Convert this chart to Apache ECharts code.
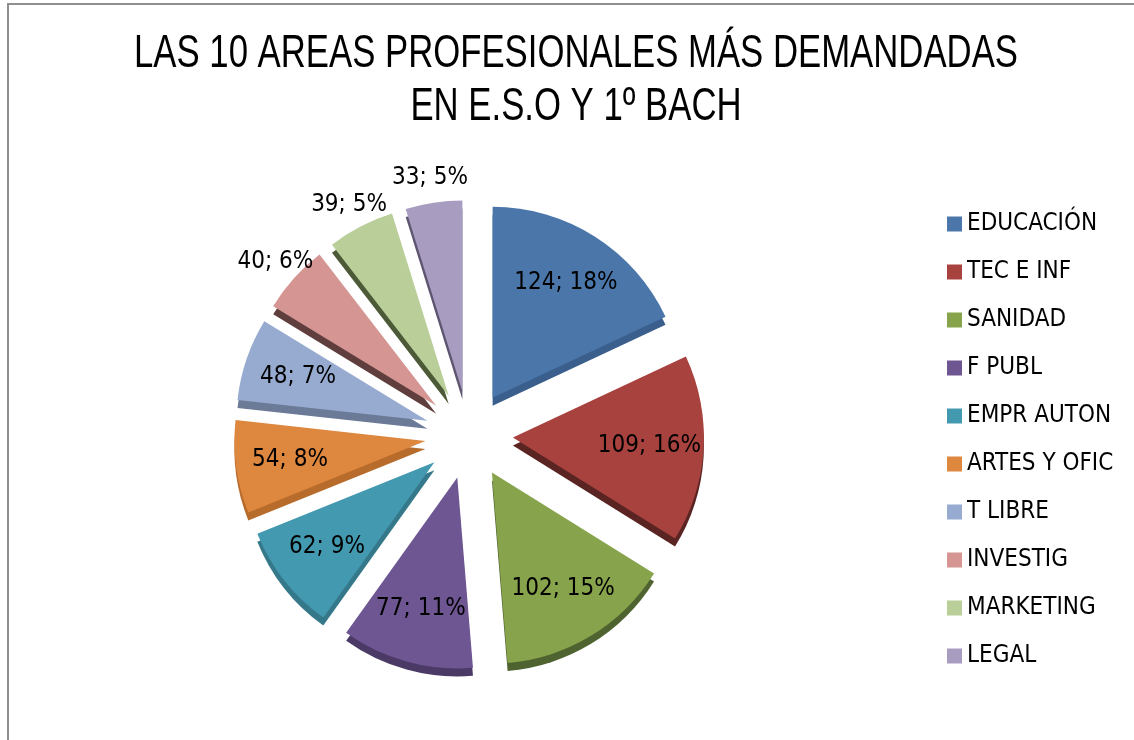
<!DOCTYPE html>
<html>
<head>
<meta charset="utf-8">
<script src="https://cdn.jsdelivr.net/npm/echarts@6/dist/echarts.min.js"></script>
<style>
  body { margin: 0; background: #fff; }
  #chart { position: absolute; left: 0; top: 0; width: 1134px; height: 740px; }
  #frame { position: absolute; left: 7px; top: 3px; width: 1200px; height: 800px;
           border-left: 2px solid #8e8e8e; border-top: 2px solid #8e8e8e; pointer-events: none; }
</style>
</head>
<body>
<div id="chart"></div>
<div id="frame"></div>
<script>
// Data
var titleLines = ['LAS 10 AREAS PROFESIONALES MÁS DEMANDADAS', 'EN E.S.O Y 1º BACH'];
var areas = ['EDUCACIÓN', 'TEC E INF', 'SANIDAD', 'F PUBL', 'EMPR AUTON',
             'ARTES Y OFIC', 'T LIBRE', 'INVESTIG', 'MARKETING', 'LEGAL'];
var alumnos = [124, 109, 102, 77, 62, 54, 48, 40, 39, 33];

// Colors (top face / side face)
var topColors = ['#4A76A9', '#A8423F', '#87A34C', '#6E5693', '#4399B0',
                 '#DD873F', '#97AAD0', '#D49593', '#B9CE98', '#A89CC0'];
var sideColors = ['#3B5F8C', '#5A2422', '#4F6330', '#4B3A66', '#35788A',
                  '#B86C2C', '#6B7A96', '#5F3E3D', '#4C5A38', '#5E5570'];

var font = "'DejaVu Sans Condensed', 'Liberation Sans Narrow', sans-serif";
var cx = 469, cy = 435, R = 191, gap = 44, depth = 8;

var chart = echarts.init(document.getElementById('chart'));

// small slices get their label outside the pie
function isSmall(v) { return v < 45; }

var topData = areas.map(function (n, i) {
  return { name: n, value: alumnos[i], selected: true, itemStyle: { color: topColors[i] } };
});
var sideData = areas.map(function (n, i) {
  return { name: n, value: alumnos[i], selected: true, itemStyle: { color: sideColors[i] } };
});
var inLabelData = areas.map(function (n, i) {
  return { name: n, value: alumnos[i], selected: true, label: { show: !isSmall(alumnos[i]) } };
});
var outLabelData = areas.map(function (n, i) {
  return { name: n, value: alumnos[i], selected: true, label: { show: isSmall(alumnos[i]) } };
});

var common = {
  type: 'pie',
  startAngle: 90,
  selectedMode: 'multiple',
  selectedOffset: gap,
  percentPrecision: 0,
  avoidLabelOverlap: false,
  labelLayout: { hideOverlap: false },
  silent: true,
  animation: false,
  emphasis: { disabled: true }
};
var labelStyle = {
  position: 'inside',
  formatter: '{c}; {d}%',
  fontFamily: font, fontSize: 24, color: '#000'
};

chart.setOption({
  // title as graphic text so it can be squeezed like a narrow font
  graphic: [{
    type: 'text',
    x: 576,
    y: 28,
    scaleX: 0.755,
    style: {
      text: titleLines.join('\n'),
      font: "46px 'Liberation Sans', Arial, sans-serif",
      fill: '#000',
      textAlign: 'center',
      textVerticalAlign: 'top',
      lineHeight: 53
    }
  }],
  legend: {
    orient: 'vertical',
    left: 942,
    top: 207,
    icon: 'rect',
    itemWidth: 15,
    itemHeight: 15,
    itemGap: 24,
    selectedMode: false,
    data: areas,
    textStyle: { fontFamily: font, fontSize: 24, color: '#000' }
  },
  series: [
    Object.assign({}, common, {
      name: 'top',
      z: 3,
      center: [cx, cy],
      radius: R,
      label: { show: false },
      labelLine: { show: false },
      data: topData
    }),
    Object.assign({}, common, {
      name: 'side',
      z: 2,
      center: [cx, cy + depth],
      radius: R,
      label: { show: false },
      labelLine: { show: false },
      data: sideData
    }),
    Object.assign({}, common, {
      name: 'labels in',
      z: 4,
      center: [cx, cy],
      radius: [R * 0.4, R],
      itemStyle: { color: 'rgba(0,0,0,0)' },
      label: labelStyle,
      data: inLabelData
    }),
    Object.assign({}, common, {
      name: 'labels out',
      z: 4,
      center: [cx, cy],
      radius: [R + 11, R + 33],
      itemStyle: { color: 'rgba(0,0,0,0)' },
      label: labelStyle,
      data: outLabelData
    })
  ]
});
</script>
</body>
</html>
